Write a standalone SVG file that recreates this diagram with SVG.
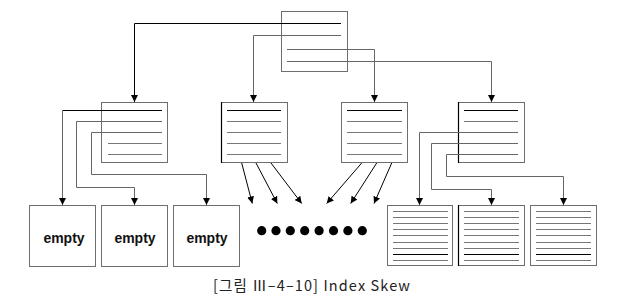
<svg xmlns="http://www.w3.org/2000/svg" width="630" height="305" viewBox="0 0 630 305">
<defs>
<marker id="ah" markerUnits="userSpaceOnUse" markerWidth="8" markerHeight="7" refX="7" refY="3.5" orient="auto">
<path d="M0,0 L7,3.5 L0,7 z" fill="#000"/>
</marker>
<style>
.box{fill:#fff;stroke:#6e6e6e;stroke-width:1}
.ln{stroke:#777;stroke-width:1;fill:none}
.lk{stroke:#000;stroke-width:1;fill:none}
.cn{stroke:#666;stroke-width:1;fill:none;marker-end:url(#ah)}
.ck{stroke:#000;stroke-width:1;fill:none;marker-end:url(#ah)}
.edge{stroke:#000;stroke-width:1.2}
.lbl{font-family:"Liberation Sans",Arial,sans-serif;font-weight:bold;font-size:14px;fill:#111;text-anchor:middle}
.cap{font-family:"Noto Sans CJK KR","Liberation Sans",sans-serif;font-size:14.5px;fill:#222}
</style>
</defs>
<rect width="630" height="305" fill="#fff"/>

<g id="root">
<rect class="box" x="281.5" y="11.5" width="66" height="60"/>
</g>
<g id="nodeA">
<rect class="box" x="101.5" y="102.5" width="66" height="60"/>
<line class="ln" x1="108" y1="143.5" x2="162" y2="143.5"/>
<line class="ln" x1="108" y1="154.5" x2="162" y2="154.5"/>
</g>
<g id="nodeB">
<rect class="box" x="221.5" y="102.5" width="66" height="60"/>
<line class="edge" x1="221.5" y1="102" x2="221.5" y2="163"/>
<line class="lk" x1="227" y1="110.5" x2="281" y2="110.5"/>
<line class="ln" x1="227" y1="121.5" x2="281" y2="121.5"/>
<line class="ln" x1="227" y1="132.5" x2="281" y2="132.5"/>
<line class="ln" x1="227" y1="143.5" x2="281" y2="143.5"/>
<line class="ln" x1="227" y1="154.5" x2="281" y2="154.5"/>
</g>
<g id="nodeC">
<rect class="box" x="341.5" y="102.5" width="66" height="60"/>
<line class="lk" x1="347" y1="110.5" x2="402" y2="110.5"/>
<line class="ln" x1="347" y1="121.5" x2="402" y2="121.5"/>
<line class="ln" x1="347" y1="132.5" x2="402" y2="132.5"/>
<line class="ln" x1="347" y1="143.5" x2="402" y2="143.5"/>
<line class="ln" x1="347" y1="154.5" x2="402" y2="154.5"/>
</g>
<g id="nodeD">
<rect class="box" x="458.5" y="102.5" width="66" height="60"/>
<line class="edge" x1="458.5" y1="102" x2="458.5" y2="163"/>
<line class="lk" x1="464" y1="110.5" x2="518" y2="110.5"/>
<line class="ln" x1="464" y1="121.5" x2="518" y2="121.5"/>
</g>

<g id="empty1">
<rect class="box" x="29.5" y="205.5" width="66" height="61"/>
<text class="lbl" x="64" y="243">empty</text>
</g>
<g id="empty2">
<rect class="box" x="101.5" y="205.5" width="66" height="61"/>
<text class="lbl" x="135" y="243">empty</text>
</g>
<g id="empty3">
<rect class="box" x="173.5" y="205.5" width="66" height="61"/>
<text class="lbl" x="207" y="243">empty</text>
</g>

<g id="dots" fill="#000">
<circle cx="261.7" cy="230.7" r="4.6"/>
<circle cx="276" cy="230.7" r="4.6"/>
<circle cx="290.3" cy="230.7" r="4.6"/>
<circle cx="304.7" cy="230.7" r="4.6"/>
<circle cx="319.1" cy="230.7" r="4.6"/>
<circle cx="333.5" cy="230.7" r="4.6"/>
<circle cx="347.9" cy="230.7" r="4.6"/>
<circle cx="362.3" cy="230.7" r="4.6"/>
</g>

<g id="full1">
<rect class="box" x="387.5" y="205.5" width="65" height="60"/>
<g class="ln">
<line x1="393" y1="211.5" x2="448" y2="211.5"/>
<line x1="393" y1="217.5" x2="448" y2="217.5"/>
<line x1="393" y1="223.5" x2="448" y2="223.5"/>
<line x1="393" y1="229.5" x2="448" y2="229.5"/>
<line x1="393" y1="235.5" x2="448" y2="235.5"/>
<line x1="393" y1="242.5" x2="448" y2="242.5"/>
<line x1="393" y1="248.5" x2="448" y2="248.5"/>
<line x1="393" y1="260.5" x2="448" y2="260.5"/>
</g>
<line class="lk" x1="393" y1="254.5" x2="448" y2="254.5"/>
</g>
<g id="full2">
<rect class="box" x="458.5" y="205.5" width="66" height="60"/>
<line class="edge" x1="458.5" y1="205" x2="458.5" y2="266"/>
<g class="ln">
<line x1="464" y1="211.5" x2="519" y2="211.5"/>
<line x1="464" y1="217.5" x2="519" y2="217.5"/>
<line x1="464" y1="223.5" x2="519" y2="223.5"/>
<line x1="464" y1="229.5" x2="519" y2="229.5"/>
<line x1="464" y1="235.5" x2="519" y2="235.5"/>
<line x1="464" y1="242.5" x2="519" y2="242.5"/>
<line x1="464" y1="248.5" x2="519" y2="248.5"/>
<line x1="464" y1="260.5" x2="519" y2="260.5"/>
</g>
<line class="lk" x1="464" y1="254.5" x2="519" y2="254.5"/>
</g>
<g id="full3">
<rect class="box" x="530.5" y="205.5" width="66" height="60"/>
<g class="ln">
<line x1="536" y1="211.5" x2="591" y2="211.5"/>
<line x1="536" y1="217.5" x2="591" y2="217.5"/>
<line x1="536" y1="223.5" x2="591" y2="223.5"/>
<line x1="536" y1="229.5" x2="591" y2="229.5"/>
<line x1="536" y1="235.5" x2="591" y2="235.5"/>
<line x1="536" y1="242.5" x2="591" y2="242.5"/>
<line x1="536" y1="248.5" x2="591" y2="248.5"/>
<line x1="536" y1="260.5" x2="591" y2="260.5"/>
</g>
<line class="lk" x1="536" y1="254.5" x2="591" y2="254.5"/>
</g>

<g id="connectors">
<path class="ck" d="M341,23.5 H134.5 V102"/>
<path class="cn" d="M341,35.5 H253.5 V102"/>
<path class="cn" d="M287,49.5 H374.5 V102"/>
<path class="cn" d="M287,61.5 H491.5 V102"/>

<path class="lk" d="M162,110.5 H62.5"/>
<path class="cn" d="M62.5,110.5 V205"/>
<path class="cn" d="M162,121.5 H76.5 V187.5 H134.5 V205"/>
<path class="cn" d="M162,132.5 H91.5 V174.5 H206.5 V205"/>

<path class="cn" d="M518,132.5 H419.5 V205"/>
<path class="cn" d="M518,143.5 H431.5 V189.5 H491.5 V205"/>
<path class="cn" d="M518,154.5 H446.5 V176.5 H563.5 V205"/>

<line class="ck" x1="241.7" y1="163" x2="252.3" y2="203.5"/>
<line class="ck" x1="256" y1="163" x2="277.3" y2="203.5"/>
<line class="ck" x1="271" y1="163" x2="301.7" y2="203.5"/>
<line class="ck" x1="361.7" y1="163" x2="326.7" y2="203.5"/>
<line class="ck" x1="376.7" y1="163" x2="350.7" y2="203.5"/>
<line class="ck" x1="391.7" y1="163" x2="374" y2="203.5"/>
</g>

<text class="cap" x="213" y="291" textLength="197" lengthAdjust="spacing">[그림 Ⅲ–4–10] Index Skew</text>
</svg>
